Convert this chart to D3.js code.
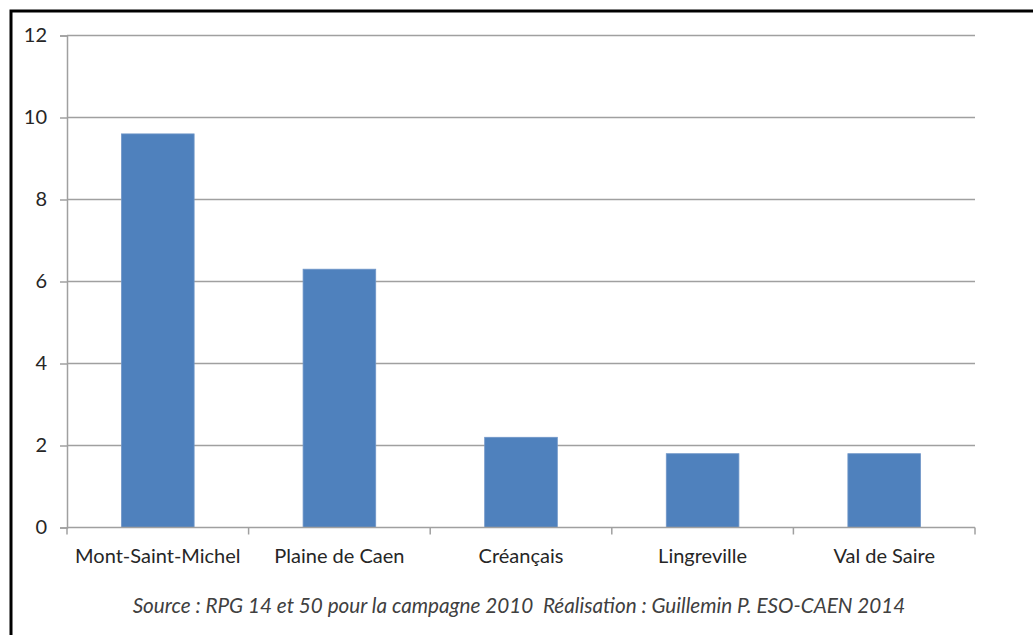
<!DOCTYPE html>
<html>
<head>
<meta charset="utf-8">
<script src="https://cdn.jsdelivr.net/npm/d3@7"></script>
<style>
  body { margin: 0; background: #fff; }
  svg text { font-family: Lato, "Open Sans", sans-serif; }
</style>
</head>
<body>
<svg class="chart" width="1033" height="635"></svg>
<script>
var categories = ["Mont-Saint-Michel", "Plaine de Caen", "Créançais", "Lingreville", "Val de Saire"];
var values = [9.6, 6.3, 2.2, 1.8, 1.8];
var yTicks = [0, 2, 4, 6, 8, 10, 12];
var sourceText = "Source : RPG 14 et 50 pour la campagne 2010  Réalisation : Guillemin P. ESO-CAEN 2014";

function drawChart(){
  var svg = d3.select("svg.chart");
  var left = 67, right = 975, plotTop = 35.5, plotBottom = 527.5;
  var barColor = "#4f81bd",
      gridColor = "#a0a0a0",
      textColor = "#262626";

  // outer frame (only top and left visible in the picture)
  svg.append("rect")
      .attr("x", 11).attr("y", 11)
      .attr("width", 1040).attr("height", 640)
      .attr("fill", "none")
      .attr("stroke", "#000")
      .attr("stroke-width", 3);

  var x = d3.scaleBand()
      .domain(categories)
      .range([left, right])
      .padding(0);

  var y = d3.scaleLinear()
      .domain([0, 12])
      .range([plotBottom, plotTop]);

  // gridlines
  svg.append("g")
    .selectAll("line")
    .data(yTicks.filter(function(d){ return d > 0; }))
    .enter().append("line")
      .attr("x1", left).attr("x2", right)
      .attr("y1", function(d){ return y(d); })
      .attr("y2", function(d){ return y(d); })
      .attr("stroke", gridColor)
      .attr("stroke-width", 1.5);

  // y axis
  var yAxis = svg.append("g")
      .attr("transform", "translate(" + left + ",0)")
      .call(d3.axisLeft(y).tickValues(yTicks).tickSize(7).tickPadding(13).tickFormat(d3.format("d")));
  yAxis.select(".domain").attr("stroke", gridColor).attr("stroke-width", 1.5);
  yAxis.selectAll(".tick line").attr("stroke", gridColor).attr("stroke-width", 1.5);
  yAxis.selectAll("text")
      .attr("font-size", 20)
      .attr("fill", textColor)
      .style("font-family", "Lato, sans-serif");

  // bars
  var barW = x.bandwidth() * 0.4;
  svg.append("g")
    .selectAll("rect")
    .data(categories)
    .enter().append("rect")
      .attr("x", function(d){ return x(d) + (x.bandwidth() - barW) / 2; })
      .attr("y", function(d, i){ return y(values[i]); })
      .attr("width", barW)
      .attr("height", function(d, i){ return y(0) - y(values[i]); })
      .attr("fill", barColor)
      .attr("stroke", "#7096c8")
      .attr("stroke-width", 0.8);

  // x axis
  var xAxis = svg.append("g")
      .attr("transform", "translate(0," + plotBottom + ")");
  xAxis.append("line")
      .attr("x1", left).attr("x2", right)
      .attr("stroke", gridColor).attr("stroke-width", 1.5);
  xAxis.selectAll("line.tk")
    .data(categories.concat(["end"]))
    .enter().append("line")
      .attr("class", "tk")
      .attr("x1", function(d, i){ return left + i * x.bandwidth(); })
      .attr("x2", function(d, i){ return left + i * x.bandwidth(); })
      .attr("y1", 0).attr("y2", 7)
      .attr("stroke", gridColor).attr("stroke-width", 1.5);
  xAxis.selectAll("text")
    .data(categories)
    .enter().append("text")
      .attr("x", function(d){ return x(d) + x.bandwidth() / 2; })
      .attr("y", 35)
      .attr("text-anchor", "middle")
      .attr("font-size", 20)
      .attr("fill", textColor)
      .text(function(d){ return d; });

  // source
  svg.append("text")
      .attr("x", 519)
      .attr("y", 613)
      .attr("text-anchor", "middle")
      .attr("font-size", 20.7)
      .attr("font-style", "italic")
      .attr("fill", "#404040")
      .style("white-space", "pre")
      .text(sourceText);
}

drawChart();
</script>
</body>
</html>
